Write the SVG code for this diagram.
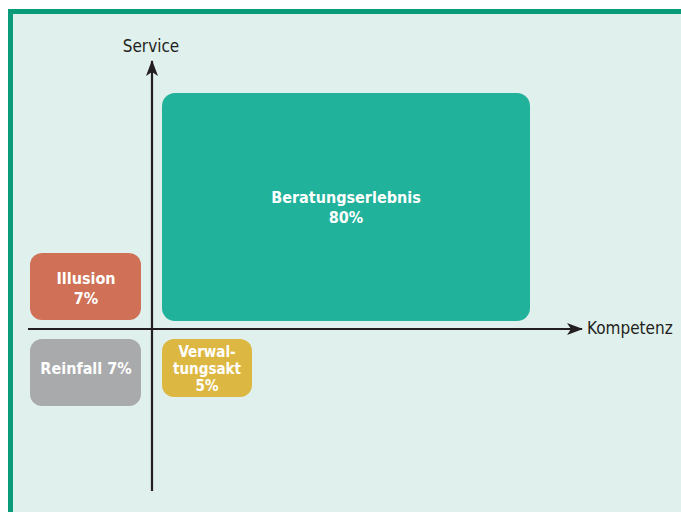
<svg xmlns="http://www.w3.org/2000/svg" width="681" height="512" viewBox="0 0 681 512">
  <defs>
    <style>
      .lbl { font-family: "DejaVu Sans Condensed", "DejaVu Sans", sans-serif; font-weight: bold; font-size: 16px; fill: #ffffff; text-anchor: middle; }
      .lbl.tight { font-size: 15px; }
      .axis-lbl { font-family: "DejaVu Sans Condensed", "DejaVu Sans", sans-serif; font-size: 17px; fill: #231f20; }
      .axis { stroke: #231f20; stroke-width: 2.2; fill: none; }
    </style>
    <marker id="arrow" viewBox="0 0 16 12" refX="15" refY="6" markerWidth="16" markerHeight="12" markerUnits="userSpaceOnUse" orient="auto">
      <path d="M0,0 L16,6 L0,12 L4,6 Z" fill="#231f20"/>
    </marker>
  </defs>

  <rect x="0" y="0" width="681" height="512" fill="#ffffff"/>
  <!-- panel with green frame -->
  <rect x="10.5" y="11.5" width="680" height="510" fill="#e0f0ec" stroke="#0a9b7b" stroke-width="5"/>

  <g id="connectors">
    <line class="axis" x1="152" y1="491" x2="152" y2="61" marker-end="url(#arrow)"/>
    <line class="axis" x1="28" y1="329" x2="582" y2="329" marker-end="url(#arrow)"/>
  </g>

  <g id="service-label">
    <text class="axis-lbl" x="151" y="52" text-anchor="middle">Service</text>
  </g>
  <g id="kompetenz-label">
    <text class="axis-lbl" x="587" y="334">Kompetenz</text>
  </g>

  <g id="beratungserlebnis">
    <rect x="162" y="93" width="368" height="228" rx="13" fill="#20b29b"/>
    <text class="lbl" x="346" y="203">Beratungserlebnis</text>
    <text class="lbl" x="346" y="223">80%</text>
  </g>

  <g id="illusion">
    <rect x="30" y="253" width="111" height="67" rx="12" fill="#cf7057"/>
    <text class="lbl" x="86" y="284">Illusion</text>
    <text class="lbl" x="86" y="304">7%</text>
  </g>

  <g id="reinfall">
    <rect x="30" y="339" width="111" height="67" rx="12" fill="#a9aaac"/>
    <text class="lbl" x="86" y="374">Reinfall 7%</text>
  </g>

  <g id="verwaltungsakt">
    <rect x="162" y="339" width="90" height="58" rx="12" fill="#dcb843"/>
    <text class="lbl tight" x="207" y="357">Verwal-</text>
    <text class="lbl tight" x="207" y="374">tungsakt</text>
    <text class="lbl tight" x="207" y="391">5%</text>
  </g>
</svg>
